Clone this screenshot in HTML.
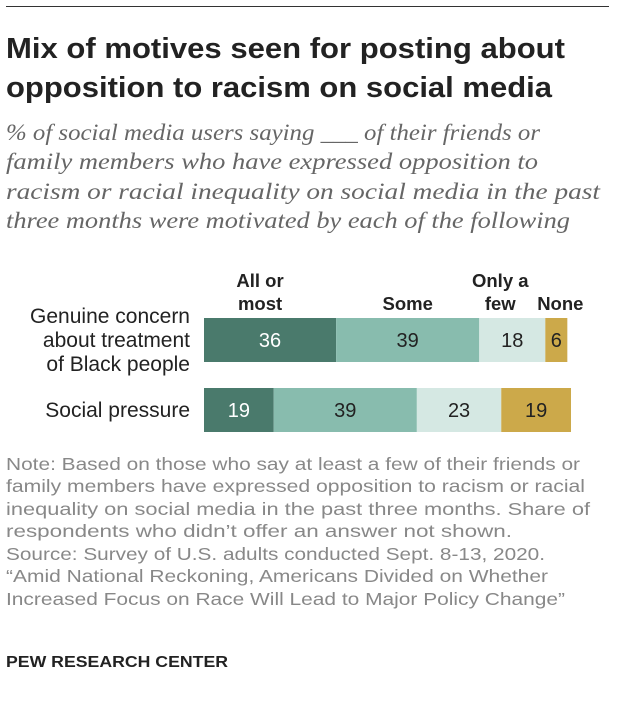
<!DOCTYPE html>
<html><head><meta charset="utf-8"><style>
body{margin:0;background:#fff;width:626px;height:706px;overflow:hidden;font-family:"Liberation Sans",sans-serif}
svg{position:absolute;left:0;top:0}
</style></head><body>
<svg width="626" height="706" id="chart">
<rect x="6" y="6" width="603" height="1" fill="#333"/>
<g font-size="29" font-weight="bold" fill="#222">
<text x="6" y="58" textLength="559" lengthAdjust="spacingAndGlyphs">Mix of motives seen for posting about</text>
<text x="6" y="97" textLength="546" lengthAdjust="spacingAndGlyphs">opposition to racism on social media</text>
</g>
<g font-family="Liberation Serif, serif" font-style="italic" font-size="23" fill="#666">
<text x="6" y="140" textLength="534" lengthAdjust="spacingAndGlyphs">% of social media users saying ___ of their friends or</text>
<text x="6" y="169" textLength="532" lengthAdjust="spacingAndGlyphs">family members who have expressed opposition to</text>
<text x="6" y="199" textLength="594" lengthAdjust="spacingAndGlyphs">racism or racial inequality on social media in the past</text>
<text x="6" y="228" textLength="564" lengthAdjust="spacingAndGlyphs">three months were motivated by each of the following</text>
</g>
<g font-size="17.5" fill="#888">
<text x="6" y="470" textLength="574" lengthAdjust="spacingAndGlyphs">Note: Based on those who say at least a few of their friends or</text>
<text x="6" y="492" textLength="579" lengthAdjust="spacingAndGlyphs">family members have expressed opposition to racism or racial</text>
<text x="6" y="515" textLength="584" lengthAdjust="spacingAndGlyphs">inequality on social media in the past three months. Share of</text>
<text x="6" y="537" textLength="506" lengthAdjust="spacingAndGlyphs">respondents who didn’t offer an answer not shown.</text>
<text x="6" y="560" textLength="539" lengthAdjust="spacingAndGlyphs">Source: Survey of U.S. adults conducted Sept. 8-13, 2020.</text>
<text x="6" y="582" textLength="542" lengthAdjust="spacingAndGlyphs">“Amid National Reckoning, Americans Divided on Whether</text>
<text x="6" y="605" textLength="559" lengthAdjust="spacingAndGlyphs">Increased Focus on Race Will Lead to Major Policy Change”</text>
</g>
<text x="6" y="667" font-size="16" font-weight="bold" fill="#222" textLength="222" lengthAdjust="spacingAndGlyphs">PEW RESEARCH CENTER</text>
</svg>
<script>
const categories=[["Genuine concern","about treatment","of Black people"],["Social pressure"]];
const seriesNames=[["All or","most"],["Some"],["Only a","few"],["None"]];
const allOrMost=[36,19];
const some=[39,39];
const onlyAFew=[18,23];
const none=[6,19];
const colors=["#4a7a6c","#88bcae","#d5e8e3","#cca94a"];
const textColors=["#fff","#222","#222","#222"];
const series=[allOrMost,some,onlyAFew,none];
const labelShift=[-10,0,-12,4];
const svg=document.getElementById('chart');
const NS="http://www.w3.org/2000/svg";
const x0=204,scale=3.67;
const xs=v=>v*scale;
const rowTop=[318,388],barH=44;
function mk(t,a){const e=document.createElementNS(NS,t);for(const k in a)e.setAttribute(k,a[k]);svg.appendChild(e);return e;}
categories.forEach((cat,i)=>{
  let x=x0;
  const y=rowTop[i];
  const n=cat.length;
  cat.forEach((line,j)=>{
    const t=mk('text',{x:190,y:y+barH/2+7+(j-(n-1)/2)*24,'text-anchor':'end','font-size':21,fill:'#222'});
    t.textContent=line;
    
    
  });
  series.forEach((s,k)=>{
    const w=xs(s[i]);
    const r=mk('rect',{x:x,y:y,width:w,height:barH,fill:colors[k]});
    
    
    const t=mk('text',{x:x+w/2,y:y+barH/2+7,'text-anchor':'middle','font-size':20,fill:textColors[k]});
    t.textContent=s[i];
    
    
    if(i===0){
      const lines=seriesNames[k];
      lines.forEach((ln,j)=>{
        const ty=312-(lines.length-1-j)*23-2;
        const lt=mk('text',{x:x+w/2+labelShift[k],y:ty,'text-anchor':'middle','font-size':18.5,'font-weight':'bold',fill:'#222'});
        lt.textContent=ln;
        
        
      });
    }
    x+=w;
  });
});
</script>
</body></html>
